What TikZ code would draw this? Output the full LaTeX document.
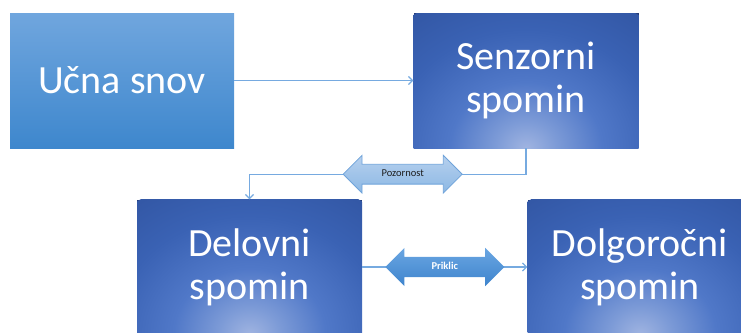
\documentclass[tikz,border=0pt]{standalone}
\usepackage{fontspec}
\setmainfont{Carlito}
\usepackage{tikz}
\usetikzlibrary{arrows.meta,shapes.arrows}

\definecolor{linkblue}{RGB}{118,170,224}
\definecolor{edgeblue}{RGB}{36,60,120}
\definecolor{darkblue}{RGB}{46,80,155}
\definecolor{midblue}{RGB}{58,98,180}
\definecolor{softblue}{RGB}{80,120,200}
\definecolor{paleblue}{RGB}{125,155,215}
\definecolor{glowblue}{RGB}{160,180,225}
\pgfdeclareradialshading{glowspot}{\pgfpointorigin}{%
  color(0bp)=(glowblue); color(4bp)=(paleblue); color(10bp)=(softblue); color(18bp)=(midblue);
  color(30bp)=(darkblue); color(50bp)=(edgeblue)}

\tikzset{
  bigtext/.style={text=white, align=center, font=\fontsize{40}{43}\selectfont},
  litebox/.style={bigtext, rectangle, minimum width=224pt, minimum height=135pt,
    top color={rgb,255:red,112;green,166;blue,222}, bottom color={rgb,255:red,62;green,135;blue,205}},
  darkbox/.style={bigtext, rectangle, minimum width=225pt, minimum height=135pt, fill=edgeblue,
    path picture={\shade[shading=glowspot] (path picture bounding box.south) ellipse [x radius=190pt, y radius=165pt];}},
  link/.style={draw=linkblue, line width=1.2pt, -{Straight Barb[length=4pt,width=8pt]}},
  twoway/.style={double arrow, double arrow head extend=9pt, minimum height=119pt,
    text height=7pt, text depth=2pt, inner ysep=5pt, font=\fontsize{10.5}{12}\selectfont}
}

\begin{document}
\begin{tikzpicture}[x=1pt,y=-1pt]
  \clip (0,0) rectangle (741,332);
  % Boxes
  \node[litebox] (ucna) at (122,80.5) {Učna snov};
  \node[darkbox] (senz) at (526,80.5) {Senzorni\\spomin};
  \node[darkbox] (delo) at (249.5,267) {Delovni\\spomin};
  \node[darkbox] (dolg) at (640,267) {Dolgoročni\\spomin};
  % Connectors
  \draw[link] (ucna.east) -- (senz.west);
  \draw[link] (senz.south) -- ++(0,26) -| (delo.north)
    node[twoway, pos=0.223, draw={rgb,255:red,111;green,163;blue,218}, line width=0.8pt,
      top color={rgb,255:red,182;green,208;blue,238}, bottom color={rgb,255:red,140;green,184;blue,228},
      text={rgb,255:red,30;green,30;blue,30}] (pozor) {Pozornost};
  \draw[link] (delo.east) -- (dolg.west)
    node[twoway, midway, text=white, font=\fontsize{10.5}{12}\selectfont\bfseries,
      top color={rgb,255:red,106;green,166;blue,226}, bottom color={rgb,255:red,62;green,132;blue,205}] (prik) {Priklic};
\end{tikzpicture}
\end{document}
